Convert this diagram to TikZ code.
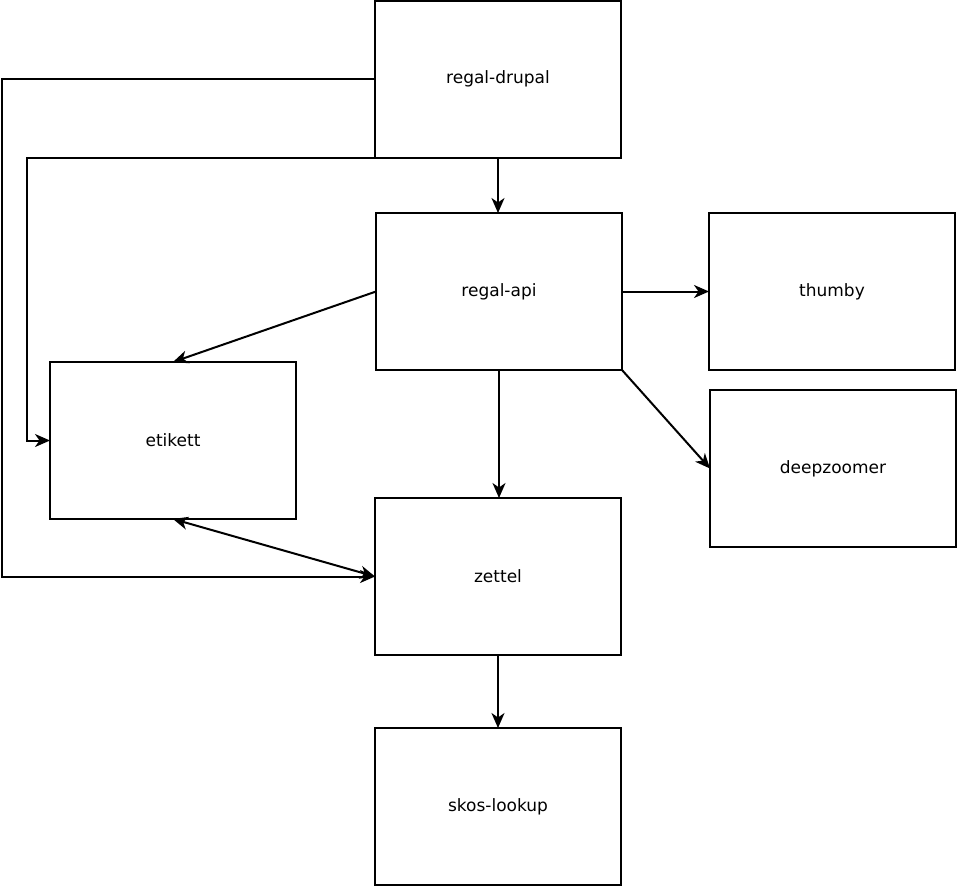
\documentclass[tikz,border=0pt]{standalone}
\usepackage{fontspec}
\setmainfont{DejaVu Sans}
\usetikzlibrary{arrows.meta}
\begin{document}
\begin{tikzpicture}[x=1pt,y=-1pt,
  box/.style={draw,line width=2pt,outer sep=0pt,minimum width=246pt,minimum height=157pt,inner sep=0pt,
    font=\fontsize{17}{20}\selectfont,text=black},
  conn/.style={line width=2pt,-{Stealth[length=15pt,width=13pt,inset=4.5pt]}},
  conn2/.style={line width=2pt,{Stealth[length=15pt,width=13pt,inset=4.5pt]}-{Stealth[length=15pt,width=13pt,inset=4.5pt]}}]
\useasboundingbox (0,0) rectangle (958,887);
\node[box] (drupal) at (498,79) {regal-drupal};
\node[box] (api) at (499,291.5) {regal-api};
\node[box] (thumby) at (832,291.5) {thumby};
\node[box] (deep) at (833,468.5) {deepzoomer};
\node[box] (etikett) at (173,440.5) {etikett};
\node[box] (zettel) at (498,576.5) {zettel};
\node[box] (skos) at (498,806.5) {skos-lookup};
\coordinate (c1) at (1.5,79);
\coordinate (c2) at (c1 |- zettel.west);
\coordinate (c4) at (27,440.5);
\coordinate (c3) at (c4 |- drupal.south west);
\draw[conn] (drupal.south) -- (drupal.south |- api.north);
\draw[conn] (drupal.west) -- (c1) -- (c2) -- (zettel.west);
\draw[conn] (drupal.south west) -- (c3) -- (c4) -- (etikett.west);
\draw[conn] (api.west) -- (etikett.north);
\draw[conn] (api.east) -- (thumby.west);
\draw[conn] (api.south east) -- (deep.west);
\draw[conn] (api.south) -- (api.south |- zettel.north);
\draw[conn2] (etikett.south) -- (zettel.west);
\draw[conn] (zettel.south) -- (skos.north);
\end{tikzpicture}
\end{document}
